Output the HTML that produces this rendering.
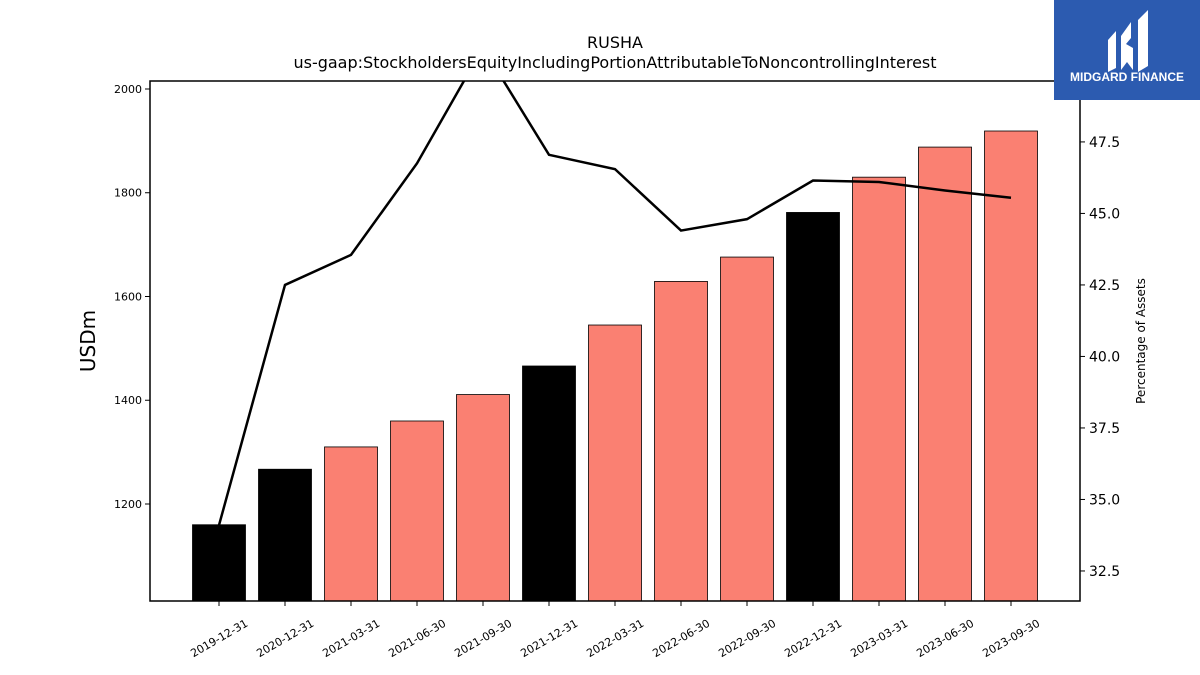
<!DOCTYPE html>
<html><head><meta charset="utf-8"><style>
body{margin:0;background:#fff;}
svg{display:block;font-family:"DejaVu Sans","Liberation Sans",sans-serif;}
</style></head><body>
<svg width="1200" height="675" viewBox="0 0 1200 675">
<defs><clipPath id="plotclip"><rect x="150" y="81" width="930" height="520"/></clipPath></defs>
<g id="title">
<text x="615" y="48" text-anchor="middle" font-size="16">RUSHA</text>
<text x="615" y="68" text-anchor="middle" font-size="16">us-gaap:StockholdersEquityIncludingPortionAttributableToNoncontrollingInterest</text>
</g>
<g id="bars"></g>
<g id="line" clip-path="url(#plotclip)"></g>
<rect x="150" y="81" width="930" height="520" fill="none" stroke="#000" stroke-width="1.5"/>
<g id="yleft"></g>
<g id="yright"></g>
<g id="xaxis"></g>
<text transform="translate(95,341) rotate(-90)" text-anchor="middle" font-size="20">USDm</text>
<text transform="translate(1145,341) rotate(-90)" text-anchor="middle" font-size="12">Percentage of Assets</text>
<g>
<rect x="1054" y="0" width="146" height="100" fill="#2c5bb0"/>
<path d="M1108 40 L1116 31 L1116 68 L1108 72 Z M1121 36 L1131 22 L1131 38 L1126 44 L1133 48 L1133 70 L1127 62 L1121 70 Z M1138 20 L1148 10 L1148 66 L1138 72 Z" fill="#fff"/>
<text x="1127" y="81" text-anchor="middle" font-size="12" font-weight="bold" fill="#fff" font-family="Liberation Sans, sans-serif">MIDGARD FINANCE</text>
</g>
</svg>
<script>
const categories=["2019-12-31","2020-12-31","2021-03-31","2021-06-30","2021-09-30","2021-12-31","2022-03-31","2022-06-30","2022-09-30","2022-12-31","2023-03-31","2023-06-30","2023-09-30"];
const equityValues=[1160,1267,1310,1360,1411,1466,1545,1629,1676,1762,1830,1888,1919];
const annualFlags=[1,1,0,0,0,1,0,0,0,1,0,0,0];
const pctValues=[34.1,42.5,43.55,46.75,50.8,47.05,46.55,44.4,44.8,46.15,46.1,45.8,45.55];
const leftTicks=[1200,1400,1600,1800,2000];
const rightTicks=[32.5,35.0,37.5,40.0,42.5,45.0,47.5];
const NS="http://www.w3.org/2000/svg";
const X0=150,X1=1080,Y0=81,Y1=601;
const LMIN=1013,LMAX=2015.4,RMIN=31.45,RMAX=49.63;
function xc(i){return 219+i*66;}
function yl(v){return Y1-(v-LMIN)/(LMAX-LMIN)*(Y1-Y0);}
function yr(v){return Y1-(v-RMIN)/(RMAX-RMIN)*(Y1-Y0);}
function mk(t,a,p){const e=document.createElementNS(NS,t);for(const k in a)e.setAttribute(k,a[k]);p.appendChild(e);return e;}
const bars=document.getElementById('bars');
equityValues.forEach((v,i)=>{
 const r=mk('rect',{x:xc(i)-26.5,y:yl(v),width:53,height:Y1-yl(v),fill:annualFlags[i]?'#000':'#fa8072',stroke:'#000','stroke-width':0.8},bars);
 
 
});
const pl=mk('polyline',{points:pctValues.map((v,i)=>xc(i)+','+yr(v)).join(' '),fill:'none',stroke:'#000','stroke-width':2.5},document.getElementById('line'));


const yL=document.getElementById('yleft');
leftTicks.forEach(v=>{
 mk('line',{x1:X0-5,x2:X0,y1:yl(v),y2:yl(v),stroke:'#000'},yL);
 const t=mk('text',{x:X0-8,y:yl(v)+4,'text-anchor':'end','font-size':11},yL);t.textContent=v;
 
 
});
const yR=document.getElementById('yright');
rightTicks.forEach(v=>{
 mk('line',{x1:X1,x2:X1+5,y1:yr(v),y2:yr(v),stroke:'#000'},yR);
 const t=mk('text',{x:X1+9,y:yr(v)+5,'font-size':14},yR);t.textContent=v.toFixed(1);
 
 
});
const xa=document.getElementById('xaxis');
categories.forEach((c,i)=>{
 mk('line',{x1:xc(i),x2:xc(i),y1:Y1,y2:Y1+5,stroke:'#000'},xa);
 const t=mk('text',{x:xc(i),y:642,'text-anchor':'middle','font-size':11,transform:'rotate(-30 '+xc(i)+' 638)'},xa);t.textContent=c;
 
 
});
</script>
</body></html>
